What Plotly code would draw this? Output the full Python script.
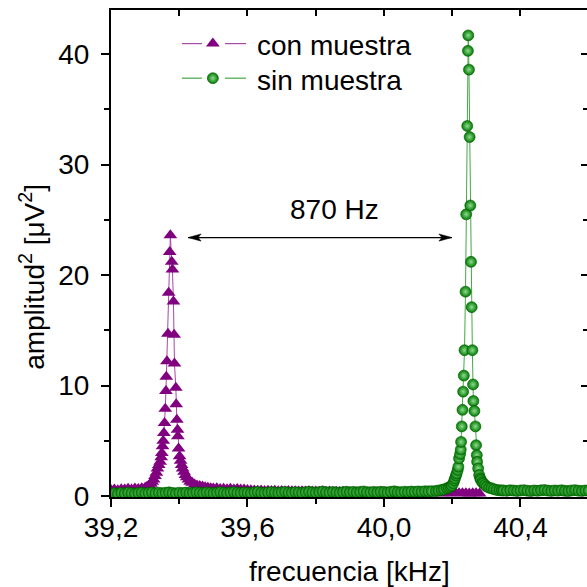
import numpy as np
import plotly.graph_objects as go

# ---------------- data (frequency in kHz, amplitude^2 in uV^2) ----------------
SWEEP_STEP = 0.01  # kHz, spacing of the coarse baseline sweep

# "con muestra" (with sample) -- baseline before the resonance
con_base_lo_start = 39.20
con_base_lo_amp = [0.55, 0.60, 0.52, 0.62, 0.58, 0.65, 0.60, 0.68, 0.64, 0.70]

# resonance region, fine sweep
con_peak_freq = [39.300, 39.306, 39.312, 39.317, 39.321, 39.325, 39.329, 39.333,
                 39.336, 39.340, 39.344, 39.347, 39.349, 39.351, 39.353, 39.355,
                 39.357, 39.359, 39.361, 39.362, 39.364, 39.367, 39.369, 39.372,
                 39.374, 39.378, 39.380, 39.383, 39.385, 39.386, 39.390, 39.391,
                 39.393, 39.395, 39.396, 39.398, 39.401, 39.404, 39.407, 39.410,
                 39.414, 39.418, 39.422, 39.427, 39.432, 39.438, 39.445, 39.452,
                 39.460, 39.468, 39.476, 39.484, 39.492]
con_peak_amp = [0.75, 0.85, 0.95, 1.1, 1.3, 1.5, 1.8, 2.1,
                2.5, 2.8, 3.1, 3.5, 3.9, 4.5, 5.0, 5.7,
                6.6, 7.9, 9.5, 10.8, 12.2, 14.7, 18.4, 22.1,
                23.6, 21.2, 20.5, 17.6, 14.6, 12.0, 9.8, 8.3,
                6.9, 6.0, 5.4, 4.3, 3.6, 3.2, 2.8, 2.5,
                2.2, 1.9, 1.7, 1.5, 1.3, 1.2, 1.05, 0.95,
                0.9, 0.85, 0.8, 0.75, 0.7]

# baseline after the resonance
con_base_hi_start = 39.50
con_base_hi_amp = [0.68, 0.70, 0.64, 0.66, 0.62, 0.65, 0.60, 0.63, 0.58, 0.60,
                   0.55, 0.52, 0.50, 0.48, 0.50, 0.46, 0.48, 0.45, 0.47, 0.44,
                   0.46, 0.43, 0.45, 0.42, 0.44, 0.41, 0.43, 0.40, 0.42, 0.40,
                   0.41, 0.39, 0.42, 0.38, 0.40, 0.37, 0.39, 0.36, 0.38, 0.37,
                   0.35, 0.37, 0.34, 0.36, 0.33, 0.35, 0.32, 0.34, 0.33, 0.31,
                   0.33, 0.30, 0.32, 0.29, 0.31, 0.30, 0.28, 0.30, 0.29, 0.27,
                   0.29, 0.28, 0.26, 0.28, 0.27, 0.25, 0.27, 0.26, 0.24, 0.26,
                   0.25, 0.27, 0.24, 0.26, 0.25, 0.23, 0.25, 0.24, 0.22]

# "sin muestra" (without sample)
sin_base_lo_start = 39.20
sin_base_lo_amp = [0.22, 0.25, 0.20, 0.28, 0.24, 0.30, 0.26, 0.22, 0.27, 0.30,
                   0.25, 0.28, 0.32, 0.27, 0.30, 0.26, 0.29, 0.33, 0.28, 0.25,
                   0.30, 0.27, 0.31, 0.26, 0.29, 0.33, 0.30, 0.27, 0.32, 0.29,
                   0.26, 0.30, 0.34, 0.29, 0.27, 0.31, 0.35, 0.30, 0.28, 0.32,
                   0.30, 0.27, 0.33, 0.36, 0.30, 0.28, 0.32, 0.35, 0.31, 0.29,
                   0.33, 0.37, 0.31, 0.30, 0.35, 0.32, 0.29, 0.34, 0.38, 0.33,
                   0.31, 0.35, 0.40, 0.34, 0.32, 0.36, 0.33, 0.30, 0.35, 0.38,
                   0.34, 0.37, 0.33, 0.36, 0.41, 0.35, 0.33, 0.37, 0.34, 0.38,
                   0.36, 0.33, 0.38, 0.42, 0.36, 0.35, 0.39, 0.37, 0.40, 0.38,
                   0.41, 0.39, 0.43, 0.42, 0.44]

sin_peak_freq = [40.152, 40.160, 40.169, 40.176, 40.184, 40.190, 40.195, 40.199,
                 40.203, 40.206, 40.208, 40.211, 40.213, 40.216, 40.218, 40.220,
                 40.223, 40.225, 40.226, 40.228, 40.230, 40.232, 40.234, 40.236,
                 40.239, 40.241, 40.244, 40.246, 40.247, 40.249, 40.251, 40.253,
                 40.255, 40.257, 40.259, 40.261, 40.262, 40.265, 40.268, 40.270,
                 40.272, 40.273, 40.276, 40.279, 40.282, 40.284, 40.288, 40.291,
                 40.296, 40.301, 40.308, 40.315, 40.322, 40.330, 40.338, 40.345]
sin_peak_amp = [0.45, 0.50, 0.55, 0.60, 0.70, 0.75, 0.85, 0.95,
                1.15, 1.4, 1.6, 1.85, 2.05, 2.35, 2.65, 3.4,
                3.8, 4.2, 4.9, 6.3, 7.8, 9.45, 10.9, 13.2,
                18.5, 25.5, 33.5, 40.3, 41.7, 38.6, 32.5, 26.3,
                21.2, 17.1, 13.2, 10.1, 8.6, 7.7, 6.3, 4.6,
                3.7, 3.1, 2.5, 1.9, 1.6, 1.45, 1.25, 1.15,
                1.0, 0.85, 0.75, 0.70, 0.62, 0.55, 0.52, 0.50]

sin_base_hi_start = 40.35
sin_base_hi_amp = [0.50, 0.47, 0.52, 0.49, 0.46, 0.50, 0.53, 0.48, 0.45, 0.50,
                   0.47, 0.51, 0.54, 0.49, 0.46, 0.50, 0.48, 0.52, 0.47, 0.45,
                   0.50, 0.53, 0.48, 0.46, 0.50, 0.49]

x_tick_vals = [39.2, 39.6, 40.0, 40.4]
x_tick_text = ["39,2", "39,6", "40,0", "40,4"]
x_minor_vals = [39.4, 39.8, 40.2]
y_tick_vals = [0, 10, 20, 30, 40]
y_minor_vals = [5, 15, 25, 35]

series_names = ["con muestra", "sin muestra"]
separation_label = "870 Hz"
arrow_from, arrow_to, arrow_level = 39.426, 40.199, 23.4   # kHz, kHz, uV^2


def sweep(start, amps):
    return list(np.round(start + SWEEP_STEP * np.arange(len(amps)), 3))


con_f = sweep(con_base_lo_start, con_base_lo_amp) + con_peak_freq + sweep(con_base_hi_start, con_base_hi_amp)
con_a = con_base_lo_amp + con_peak_amp + con_base_hi_amp
sin_f = sweep(sin_base_lo_start, sin_base_lo_amp) + sin_peak_freq + sweep(sin_base_hi_start, sin_base_hi_amp)
sin_a = sin_base_lo_amp + sin_peak_amp + sin_base_hi_amp

# ---------------- styling ----------------
FONT = "Liberation Sans, Arial, sans-serif"
PURPLE, PURPLE_LINE = "#800080", "#a648a6"
GREEN, GREEN_LINE = "#007a00", "#45a845"
con_marker = dict(symbol="triangle-up", size=12, color=PURPLE, line=dict(width=0))
sin_marker = dict(symbol="circle", size=11, color=GREEN,
                  gradient=dict(type="radial", color="#8fdc8f"),
                  line=dict(width=0.6, color="#005a00"))

X_RANGE = [39.2, 40.595]
Y_RANGE = [-0.09, 44.0]

fig = go.Figure()
fig.add_trace(go.Scatter(x=con_f, y=con_a, mode="lines+markers", name=series_names[0],
                         line=dict(color=PURPLE_LINE, width=1), marker=con_marker,
                         showlegend=False))
fig.add_trace(go.Scatter(x=sin_f, y=sin_a, mode="lines+markers", name=series_names[1],
                         line=dict(color=GREEN_LINE, width=1), marker=sin_marker,
                         showlegend=False))

# legend key markers on a hidden 0..1 overlay
leg_x = 0.214
leg_y = [0.931, 0.860]
fig.add_trace(go.Scatter(x=[leg_x], y=[leg_y[0]], xaxis="x3", yaxis="y3", mode="markers",
                         marker=con_marker, showlegend=False, cliponaxis=False, hoverinfo="skip"))
fig.add_trace(go.Scatter(x=[leg_x], y=[leg_y[1]], xaxis="x3", yaxis="y3", mode="markers",
                         marker=sin_marker, showlegend=False, cliponaxis=False, hoverinfo="skip"))

shapes = []
for yy, col in zip(leg_y, [PURPLE_LINE, GREEN_LINE]):
    for x0, x1 in [(0.149, 0.191), (0.2395, 0.2836)]:
        shapes.append(dict(type="line", xref="paper", yref="paper", x0=x0, x1=x1, y0=yy, y1=yy,
                           line=dict(color=col, width=1.2)))

# double-headed arrow between the two resonances
shapes.append(dict(type="line", xref="x", yref="y", x0=arrow_from, x1=arrow_to,
                   y0=arrow_level, y1=arrow_level, line=dict(color="black", width=1.3)))
head = "M0,0 L-13,3.6 L-10,0 L-13,-3.6 Z"
head_left = "M0,0 L13,3.6 L10,0 L13,-3.6 Z"
for xa, p in [(arrow_to, head), (arrow_from, head_left)]:
    shapes.append(dict(type="path", xref="x", yref="y", xsizemode="pixel", ysizemode="pixel",
                       xanchor=xa, yanchor=arrow_level, path=p,
                       fillcolor="black", line=dict(color="black", width=0.5)))

annotations = [
    dict(text=series_names[0], xref="paper", yref="paper", x=0.3025, y=0.928,
         xanchor="left", yanchor="middle", showarrow=False, font=dict(size=28, color="black", family=FONT)),
    dict(text=series_names[1], xref="paper", yref="paper", x=0.3025, y=0.856,
         xanchor="left", yanchor="middle", showarrow=False, font=dict(size=28, color="black", family=FONT)),
    dict(text=separation_label, xref="x", yref="y", x=39.854, y=25.9,
         xanchor="center", yanchor="middle", showarrow=False, font=dict(size=28, color="black", family=FONT)),
    dict(text="frecuencia [kHz]", xref="paper", yref="paper", x=0.5, y=-0.153,
         xanchor="center", yanchor="middle", showarrow=False, font=dict(size=28, color="black", family=FONT)),
    dict(text="amplitud<sup>2</sup> [\u03bcV<sup>2</sup>]", xref="paper", yref="paper",
         x=-0.166, y=0.452, xanchor="center", yanchor="middle", textangle=-90,
         showarrow=False, font=dict(size=28, color="black", family=FONT)),
]

axis_common = dict(showgrid=False, zeroline=False, linecolor="black", linewidth=2,
                   tickcolor="black", tickwidth=2, tickfont=dict(size=28, color="black", family=FONT))

fig.update_layout(
    width=587, height=587,
    margin=dict(l=111, r=0, t=10, b=90),
    paper_bgcolor="white", plot_bgcolor="white",
    font=dict(family=FONT, color="black"),
    showlegend=False,
    xaxis=dict(range=X_RANGE, showline=True, ticks="outside", ticklen=8,
               tickmode="array", tickvals=x_tick_vals, ticktext=x_tick_text,
               ticklabelstandoff=-4,
               minor=dict(tickmode="array", tickvals=x_minor_vals, ticks="outside",
                          ticklen=5, tickwidth=2, tickcolor="black"),
               **axis_common),
    yaxis=dict(range=Y_RANGE, showline=True, ticks="outside", ticklen=8,
               tickmode="array", tickvals=y_tick_vals, ticklabelstandoff=6,
               minor=dict(tickmode="array", tickvals=y_minor_vals, ticks="outside",
                          ticklen=5, tickwidth=2, tickcolor="black"),
               **axis_common),
    xaxis2=dict(range=X_RANGE, overlaying="x", side="top", anchor="y", showline=True,
                ticks="inside", ticklen=6, tickmode="array", tickvals=x_tick_vals,
                showticklabels=False,
                minor=dict(tickmode="array", tickvals=x_minor_vals, ticks="inside",
                           ticklen=6, tickwidth=2, tickcolor="black"),
                **axis_common),
    yaxis2=dict(range=Y_RANGE, overlaying="y", side="right", anchor="x", showline=False,
                ticks="inside", ticklen=6, tickmode="array", tickvals=y_tick_vals,
                showticklabels=False,
                minor=dict(tickmode="array", tickvals=y_minor_vals, ticks="inside",
                           ticklen=4, tickwidth=2, tickcolor="black"),
                **axis_common),
    xaxis3=dict(range=[0, 1], overlaying="x", visible=False),
    yaxis3=dict(range=[0, 1], overlaying="y", visible=False, anchor="x3"),
    shapes=shapes,
    annotations=annotations,
)

# empty trace so the mirrored top/right axes are laid out
fig.add_trace(go.Scatter(x=[], y=[], xaxis="x2", yaxis="y2", showlegend=False))

fig.write_html("out.html")
